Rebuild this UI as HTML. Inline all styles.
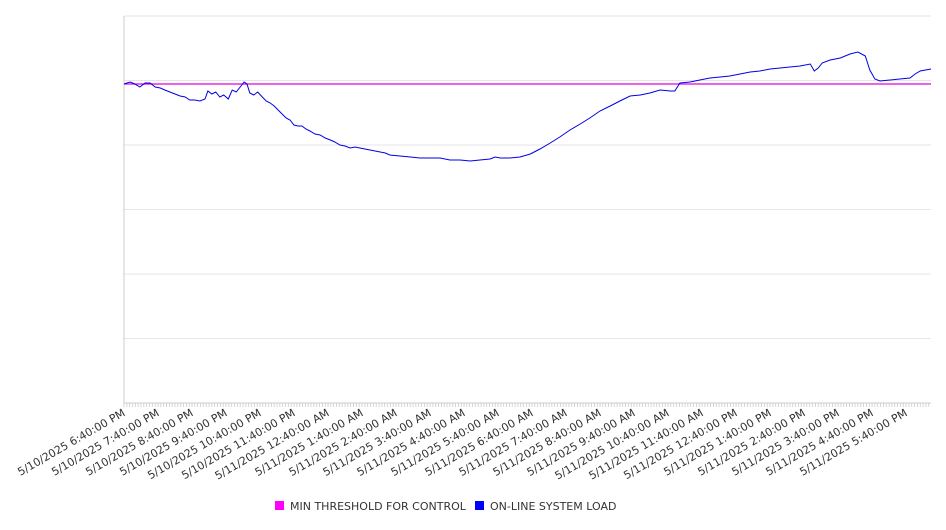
<!DOCTYPE html>
<html><head><meta charset="utf-8"><style>
body{margin:0;background:#fff;width:946px;height:526px;overflow:hidden;font-family:"DejaVu Sans","Liberation Sans",sans-serif}
svg text{font-family:"DejaVu Sans","Liberation Sans",sans-serif}
</style></head><body>
<svg id="chart" width="946" height="526" xmlns="http://www.w3.org/2000/svg"></svg>
<script>
const minutes=[0,11,19,28,37,46,55,64,72,81,90,99,108,116,125,134,143,148,155,162,169,176,184,191,198,205,212,217,222,229,236,244,251,258,265,272,279,286,293,300,307,314,321,328,337,346,355,364,372,381,390,399,408,416,425,434,443,452,461,469,487,505,522,540,558,575,593,611,628,646,655,664,681,699,717,734,752,769,787,805,822,840,858,875,893,911,928,946,964,972,981,999,1016,1034,1052,1069,1087,1105,1122,1140,1158,1175,1193,1211,1218,1225,1232,1246,1264,1281,1295,1308,1316,1325,1334,1352,1369,1387,1396,1405,1424];
const loadValues=[319,321,319,316,320,320,316,315,313,311,309,307,306,303,303,302,304,312,309,311,306,308,304,313,311,316,321,319,310,308,311,306,302,300,297,293,289,285,283,278,277,277,274,272,269,268,265,263,261,258,257,255,256,255,254,253,252,251,250,248,247,246,245,245,245,243,243,242,243,244,246,245,245,246,249,254,260,266,273,279,285,292,297,302,307,308,310,313,312,312,320,321,323,325,326,327,329,331,332,334,335,336,337,339,332,335,340,343,345,349,351,347,333,324,322,323,324,325,329,332,334];
const thresholdValue=319;
const tickLabels=["5/10/2025 6:40:00 PM","5/10/2025 7:40:00 PM","5/10/2025 8:40:00 PM","5/10/2025 9:40:00 PM","5/10/2025 10:40:00 PM","5/10/2025 11:40:00 PM","5/11/2025 12:40:00 AM","5/11/2025 1:40:00 AM","5/11/2025 2:40:00 AM","5/11/2025 3:40:00 AM","5/11/2025 4:40:00 AM","5/11/2025 5:40:00 AM","5/11/2025 6:40:00 AM","5/11/2025 7:40:00 AM","5/11/2025 8:40:00 AM","5/11/2025 9:40:00 AM","5/11/2025 10:40:00 AM","5/11/2025 11:40:00 AM","5/11/2025 12:40:00 PM","5/11/2025 1:40:00 PM","5/11/2025 2:40:00 PM","5/11/2025 3:40:00 PM","5/11/2025 4:40:00 PM","5/11/2025 5:40:00 PM"];
const yGrid=[0,64.5,129,193.5,258,322.5,387];

const svg=document.getElementById('chart');
const NS='http://www.w3.org/2000/svg';
const L=124,R=931,T=16,B=403,XMAX=1424,YMAX=387;
const xs=m=>L+m/XMAX*(R-L);
const ys=v=>B-v/YMAX*(B-T);
function mk(tag,at,parent){const e=document.createElementNS(NS,tag);for(const k in at)e.setAttribute(k,at[k]);(parent||svg).appendChild(e);return e;}

yGrid.forEach(v=>{const g=mk('line',{x1:L,x2:R,y1:ys(v),y2:ys(v),stroke:'#e6e6e6','stroke-width':1});

});
const ax=mk('line',{x1:L,x2:L,y1:T,y2:B,stroke:'#ccc'});


const xa=mk('line',{x1:L,x2:R,y1:B,y2:B,stroke:'#ccc'});


for(let m=0;m<=XMAX;m+=5){const t=mk('line',{x1:xs(m),x2:xs(m),y1:B,y2:B+4,stroke:'#ccc','stroke-width':0.8});

}
tickLabels.forEach((s,i)=>{const x=xs(i*60);const t=mk('text',{x:x+2,y:B+12,'font-size':11,fill:'#333','text-anchor':'end',transform:`rotate(-30 ${x+2} ${B+12})`});t.textContent=s;

});

const th=mk('line',{x1:L,x2:R,y1:ys(thresholdValue),y2:ys(thresholdValue),stroke:'#e000e0','stroke-width':1.2});


const d=minutes.map((m,i)=>(i?'L':'M')+xs(m).toFixed(1)+' '+ys(loadValues[i]).toFixed(1)).join(' ');
const ln=mk('path',{d:d,fill:'none',stroke:'#0000e6','stroke-width':1});



const lg=[["#ff00ff","MIN THRESHOLD FOR CONTROL",275],["#0000ff","ON-LINE SYSTEM LOAD",475]];
lg.forEach(([c,s,x])=>{const r=mk('rect',{x:x,y:501,width:9,height:9,fill:c});


const t=mk('text',{x:x+15,y:510,'font-size':11,fill:'#333'});t.textContent=s;

});
</script>
</body></html>
